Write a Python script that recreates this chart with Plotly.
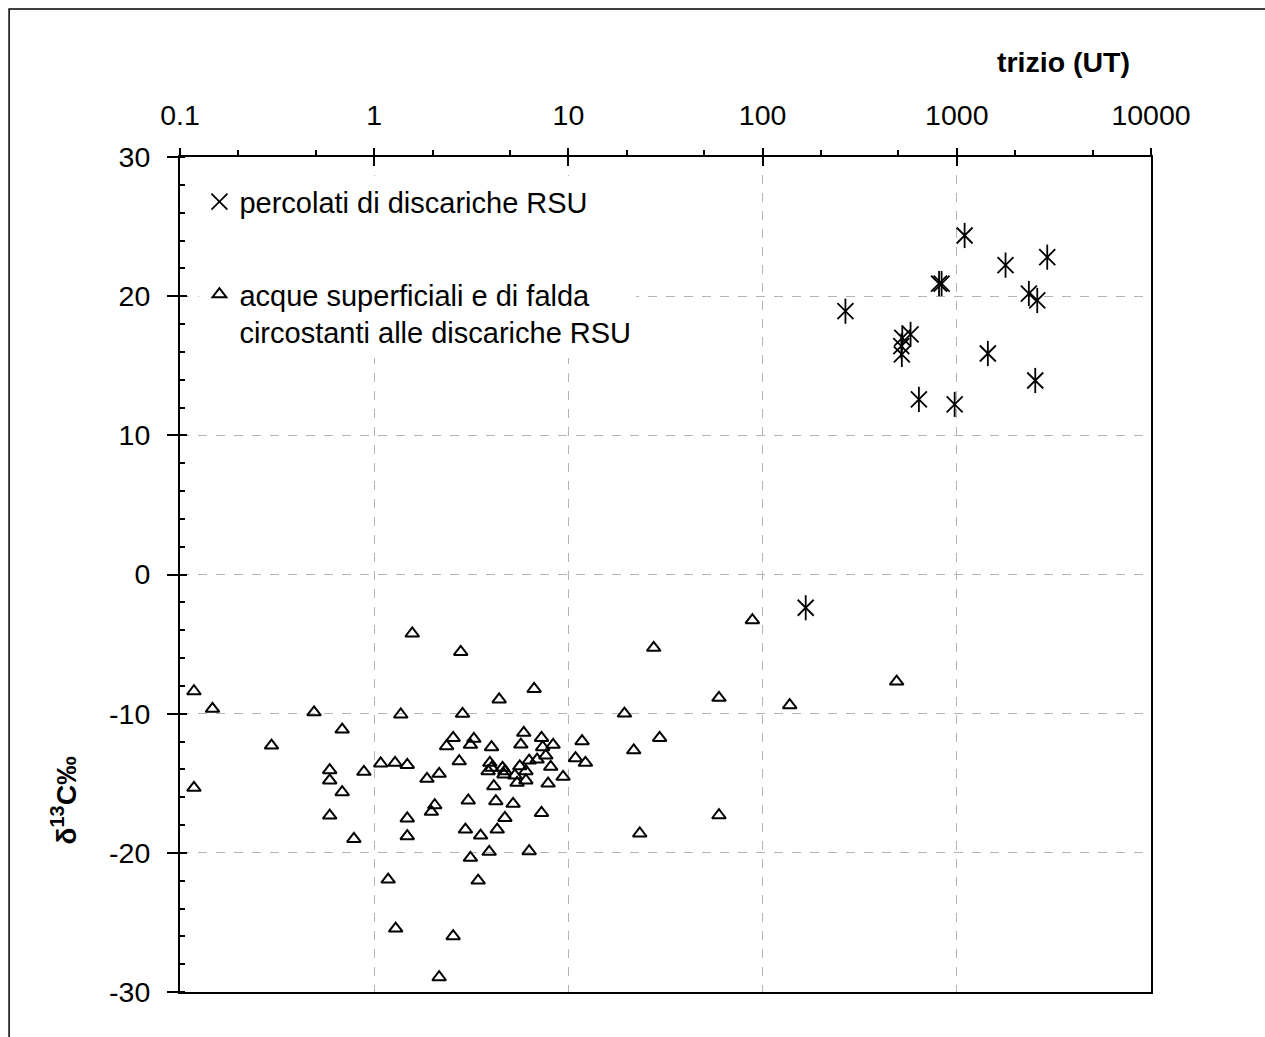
import plotly.graph_objects as go

# Data: acque superficiali e di falda (triangles)
tri_x = [0.118, 0.147, 0.118, 0.296, 0.49, 0.684, 0.59, 0.59, 0.684, 0.59, 0.885, 0.786,
         1.08, 1.28, 1.48, 1.48, 1.48, 1.18, 1.29, 1.37, 1.57, 2.79, 6.66, 4.40, 2.85,
         2.55, 2.36, 3.26, 3.13, 4.02, 2.74, 1.87, 2.16, 2.05, 1.97, 3.05, 2.95, 3.53,
         3.13, 3.91, 3.43, 2.55, 2.16, 6.28, 4.23, 5.19, 4.71, 4.30, 7.27, 4.13, 3.94,
         3.86, 4.02, 4.58, 4.71, 4.66, 5.62, 5.30, 5.44, 6.04, 6.04, 5.89, 5.69, 6.28,
         6.90, 7.27, 7.37, 8.34, 7.65, 8.11, 7.86, 9.39, 10.88, 11.76, 12.24, 19.44,
         27.5, 29.5, 21.7, 23.3, 59.6, 59.6, 88.6, 137.9, 490]
tri_y = [-8.39, -9.65, -15.33, -12.29, -9.9, -11.14, -14.06, -14.8, -15.64, -17.32, -14.18, -19.0,
         -13.58, -13.53, -13.68, -17.53, -18.8, -21.92, -25.44, -10.06, -4.24, -5.56, -8.22, -8.98, -10.01,
         -11.74, -12.34, -11.81, -12.24, -12.41, -13.42, -14.68, -14.32, -16.58, -17.05, -16.24, -18.33, -18.76,
         -20.36, -19.93, -21.99, -25.99, -28.94, -19.88, -16.29, -16.48, -17.49, -18.33, -17.13, -15.21, -13.53,
         -14.13, -13.89, -13.89, -14.13, -14.37, -13.78, -14.44, -14.97, -14.80, -14.13, -11.38, -12.22, -13.37,
         -13.30, -11.74, -12.41, -12.24, -13.01, -13.82, -15.02, -14.54, -13.2, -11.98, -13.53, -9.99,
         -5.27, -11.74, -12.63, -18.61, -8.86, -17.30, -3.28, -9.39, -7.69]

# Data: percolati di discariche RSU (asterisks)
perc_x = [1097, 1782, 2922, 810, 835, 2350, 2596, 267, 578, 524, 518, 521, 1445, 2535, 638, 975, 166.7]
perc_y = [24.36, 22.23, 22.8, 20.9, 20.9, 20.19, 19.69, 18.92, 17.25, 17.01, 16.41, 15.81, 15.88,
          13.94, 12.58, 12.22, -2.39]

x_tickvals = [0.1, 1, 10, 100, 1000, 10000]
x_ticktext = ["0.1", "1", "10", "100", "1000", "10000"]
y_tickvals = [-30, -20, -10, 0, 10, 20, 30]
y_ticktext = ["-30", "-20", "-10", "0", "10", "20", "30"]

FONT = "Arial, Liberation Sans, sans-serif"
FS = 28.5
LFS = 29

fig = go.Figure()

fig.add_trace(go.Scatter(
    x=perc_x, y=perc_y, mode="markers", name="percolati di discariche RSU",
    legendgroup="a",
    marker=dict(symbol="x-thin-open", size=16, color="black", line=dict(color="black", width=1.8)),
))
fig.add_trace(go.Scatter(
    x=perc_x, y=perc_y, mode="markers", showlegend=False, legendgroup="a",
    marker=dict(symbol="line-ns-open", size=18, color="black", line=dict(color="black", width=1.8)),
))
fig.add_trace(go.Scatter(
    x=tri_x, y=tri_y, mode="markers",
    name="acque superficiali e di falda<br>circostanti alle discariche RSU",
    legendgroup="b",
    marker=dict(symbol="triangle-up-open", size=12, color="black", line=dict(color="black", width=2)),
))
# overlay axes for inner part of crossing major ticks
fig.add_trace(go.Scatter(x=[None], y=[None], xaxis="x2", yaxis="y2", showlegend=False, hoverinfo="skip"))

grid = dict(showgrid=True, gridcolor="#b4b4b4", griddash="dash", gridwidth=1.3)

fig.update_layout(
    width=1265, height=1037,
    margin=dict(l=180, r=114, t=157, b=45),
    paper_bgcolor="white", plot_bgcolor="white",
    font=dict(family=FONT, size=FS, color="black"),
    xaxis=dict(
        type="log", range=[-1, 4], side="top",
        tickvals=x_tickvals, ticktext=x_ticktext,
        ticks="outside", ticklen=7, tickwidth=1.5, tickcolor="black",
        ticklabelstandoff=12,
        minor=dict(ticks="outside", ticklen=5, tickwidth=1.5, tickcolor="black", showgrid=False),
        showline=True, linecolor="black", linewidth=2, mirror=True,
        zeroline=False, **grid,
    ),
    yaxis=dict(
        range=[-30, 30], tickvals=y_tickvals, ticktext=y_ticktext,
        ticks="outside", ticklen=11, tickwidth=1.5, tickcolor="black",
        ticklabelstandoff=11,
        minor=dict(dtick=2, ticks="inside", ticklen=5, tickwidth=1.5, tickcolor="black", showgrid=False),
        showline=True, linecolor="black", linewidth=2, mirror=True,
        zeroline=False, **grid,
    ),
    xaxis2=dict(type="log", range=[-1, 4], overlaying="x", side="top",
                tickvals=x_tickvals, ticks="inside", ticklen=9, tickwidth=1.5, tickcolor="black",
                showticklabels=False, showgrid=False, zeroline=False, showline=False),
    yaxis2=dict(range=[-30, 30], overlaying="y", side="left",
                tickvals=y_tickvals, ticks="inside", ticklen=7, tickwidth=1.5, tickcolor="black",
                showticklabels=False, showgrid=False, zeroline=False, showline=False),
    legend=dict(
        x=0.02, y=0.977, xanchor="left", yanchor="top",
        bgcolor="white", borderwidth=0, valign="top",
        font=dict(family=FONT, size=LFS, color="black"),
        tracegroupgap=52, itemwidth=30,
    ),
    showlegend=True,
)

fig.add_annotation(
    text="<b>trizio (UT)</b>", xref="paper", yref="paper",
    x=0.91, y=1.1138, xanchor="center", yanchor="middle", showarrow=False,
    font=dict(family=FONT, size=FS, color="black"),
)
fig.add_annotation(
    text="<b>δ<sup>13</sup>C‰</b>", xref="paper", yref="paper",
    x=-0.1196, y=0.23, xanchor="center", yanchor="middle", showarrow=False, textangle=-90,
    font=dict(family=FONT, size=FS, color="black"),
)
# outer chart-area frame
fig.add_shape(type="rect", xref="paper", yref="paper",
              x0=-0.176, x1=1.3, y0=-0.3, y1=1.1772,
              line=dict(color="black", width=1.5), fillcolor="rgba(0,0,0,0)", layer="below")

fig.write_html("out.html")
